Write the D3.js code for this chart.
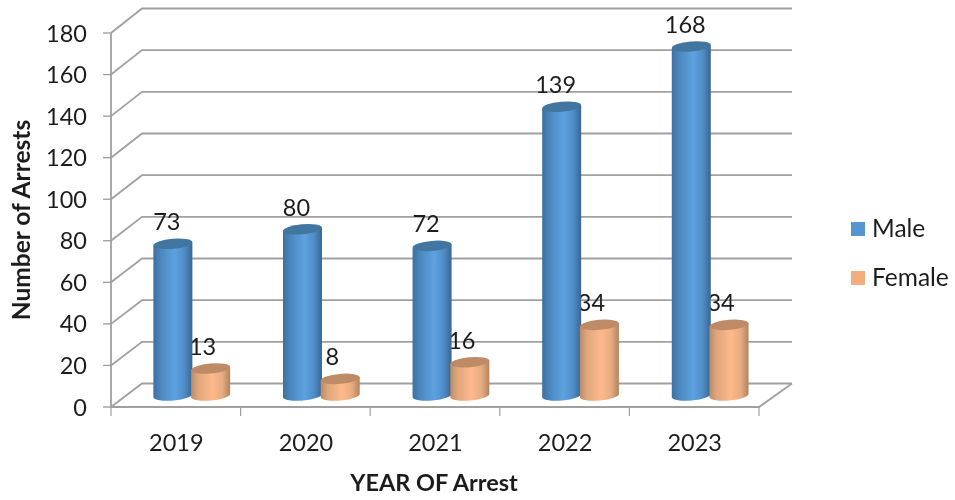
<!DOCTYPE html>
<html><head><meta charset="utf-8">
<script src="https://cdn.jsdelivr.net/npm/d3@7"></script>
<style>html,body{margin:0;background:#fff}svg{display:block}text{font-family:Lato,Carlito,sans-serif;fill:#1f1f1f}</style>
</head><body><svg id="c" width="955" height="500"></svg>
<script>
const years = ["2019","2020","2021","2022","2023"];
const series = ["Male","Female"];
const male = [73,80,72,139,168];
const female = [13,8,16,34,34];
const yTicks = [0,20,40,60,80,100,120,140,160,180];
const yTitle = "Number of Arrests";
const xTitle = "YEAR OF Arrest";

const svg = d3.select("#c");
const x = d3.scaleBand().domain(years).range([111,759]);
const xs = d3.scaleBand().domain(series).range([43,118.5]);
const yFront = d3.scaleLinear().domain([0,180]).range([407,33]);
const yBack = d3.scaleLinear().domain([0,180]).range([383.5,8.5]);
const yBar = d3.scaleLinear().domain([0,180]).range([395.5,21.5]);
const backX0 = 142, backX1 = 792, frontX0 = 111, frontX1 = 759;

const defs = svg.append("defs");
const blur = defs.append("filter").attr("id","soft").attr("x","-5%").attr("y","-5%").attr("width","110%").attr("height","110%");
blur.append("feGaussianBlur").attr("stdDeviation",0.45);
function grad(id, stops){
  const g = defs.append("linearGradient").attr("id",id);
  stops.forEach(s=>g.append("stop").attr("offset",s[0]).attr("stop-color",s[1]));
}
grad("gMale",[[0,"#3f6f9e"],[0.18,"#4b86bd"],[0.55,"#5da2e0"],[0.8,"#4f8cc6"],[1,"#386690"]]);
grad("gFemale",[[0,"#b98c6a"],[0.18,"#e0a67c"],[0.55,"#fdb98c"],[0.8,"#e6ab80"],[1,"#b08460"]]);

const root = svg.append("g").attr("filter","url(#soft)");
const gridColor = "#a0a0a0";

const wall = root.append("g").attr("fill","none").attr("stroke",gridColor).attr("stroke-width",1.8);
wall.selectAll("path.grid").data(yTicks).join("path").attr("class","grid")
  .attr("d",v=>d3.line()([[frontX0,yFront(v)],[backX0,yBack(v)],[backX1,yBack(v)]]));
wall.append("path").attr("d",d3.line()([[frontX0,yFront(0)],[frontX1,yFront(0)],[backX1,yBack(0)]]));
wall.append("path").attr("d",d3.line()([[frontX0,yFront(0)],[frontX0,yFront(180)]]));
wall.selectAll("line.yt").data(yTicks).join("line").attr("class","yt")
  .attr("x1",frontX0-8).attr("x2",frontX0).attr("y1",v=>yFront(v)).attr("y2",v=>yFront(v)).attr("stroke-width",1.4);
const xEdges = years.map(y=>x(y)).concat([x.range()[1]]);
wall.selectAll("line.xt").data(xEdges).join("line").attr("class","xt")
  .attr("x1",d=>d).attr("x2",d=>d).attr("y1",yFront(0)).attr("y2",yFront(0)+9).attr("stroke-width",1.2);

root.selectAll("text.ylab").data(yTicks).join("text").attr("class","ylab")
  .attr("x",87).attr("y",v=>yFront(v)+8.5).attr("text-anchor","end").attr("font-size",23.5).text(v=>v);
root.selectAll("text.xlab").data(years).join("text").attr("class","xlab")
  .attr("x",y=>x(y)+x.bandwidth()/2+0.5).attr("y",450.5).attr("text-anchor","middle").attr("font-size",23.5).text(y=>y);
root.append("text").attr("x",434).attr("y",490.5).attr("text-anchor","middle").attr("font-size",23.5).attr("font-weight",700).text(xTitle);
root.append("text").attr("transform","translate(30,220) rotate(-90)").attr("text-anchor","middle").attr("font-size",24.5).attr("font-weight",700).text(yTitle);

const rows = years.map((y,i)=>[{y,s:"Male",v:male[i]},{y,s:"Female",v:female[i]}]).flat();
const cx = d=>x(d.y)+xs(d.s)+xs.bandwidth()/2;
root.selectAll("text.dl").data(rows).join("text").attr("class","dl")
  .attr("x",d=>cx(d)-(d.s==="Male"?6:8)).attr("y",d=>yBar(d.v)-13.5).attr("text-anchor","middle").attr("font-size",23.5).text(d=>d.v);

const rx = 19.5, ry = 5, tilt = 1.8;
const cyl = root.selectAll("g.cyl").data(rows).join("g").attr("class","cyl");
cyl.append("path")
  .attr("fill",d=>d.s==="Male"?"url(#gMale)":"url(#gFemale)")
  .attr("d",d=>{
    const c=cx(d), t=yBar(d.v), b=yBar(0);
    return `M${c-rx},${t+tilt}L${c-rx},${b+tilt}A${rx},${ry} -5 0 0 ${c+rx},${b-tilt}L${c+rx},${t-tilt}Z`;
  });
cyl.append("ellipse")
  .attr("fill",d=>d.s==="Male"?"#41769f":"#bf8a66")
  .attr("rx",rx).attr("ry",ry)
  .attr("transform",d=>`translate(${cx(d)},${yBar(d.v)}) rotate(-5)`);

const colors = d3.scaleOrdinal().domain(series).range(["#5596d2","#f3ae80"]);
const legendY = d3.scaleOrdinal().domain(series).range([229,278]);
const leg = root.selectAll("g.leg").data(series).join("g").attr("class","leg");
leg.append("rect").attr("x",851).attr("width",14).attr("height",14).attr("y",s=>legendY(s)-7).attr("fill",s=>colors(s));
leg.append("text").attr("x",872).attr("y",s=>legendY(s)+8).attr("font-size",24.5).text(s=>s);
</script></body></html>
